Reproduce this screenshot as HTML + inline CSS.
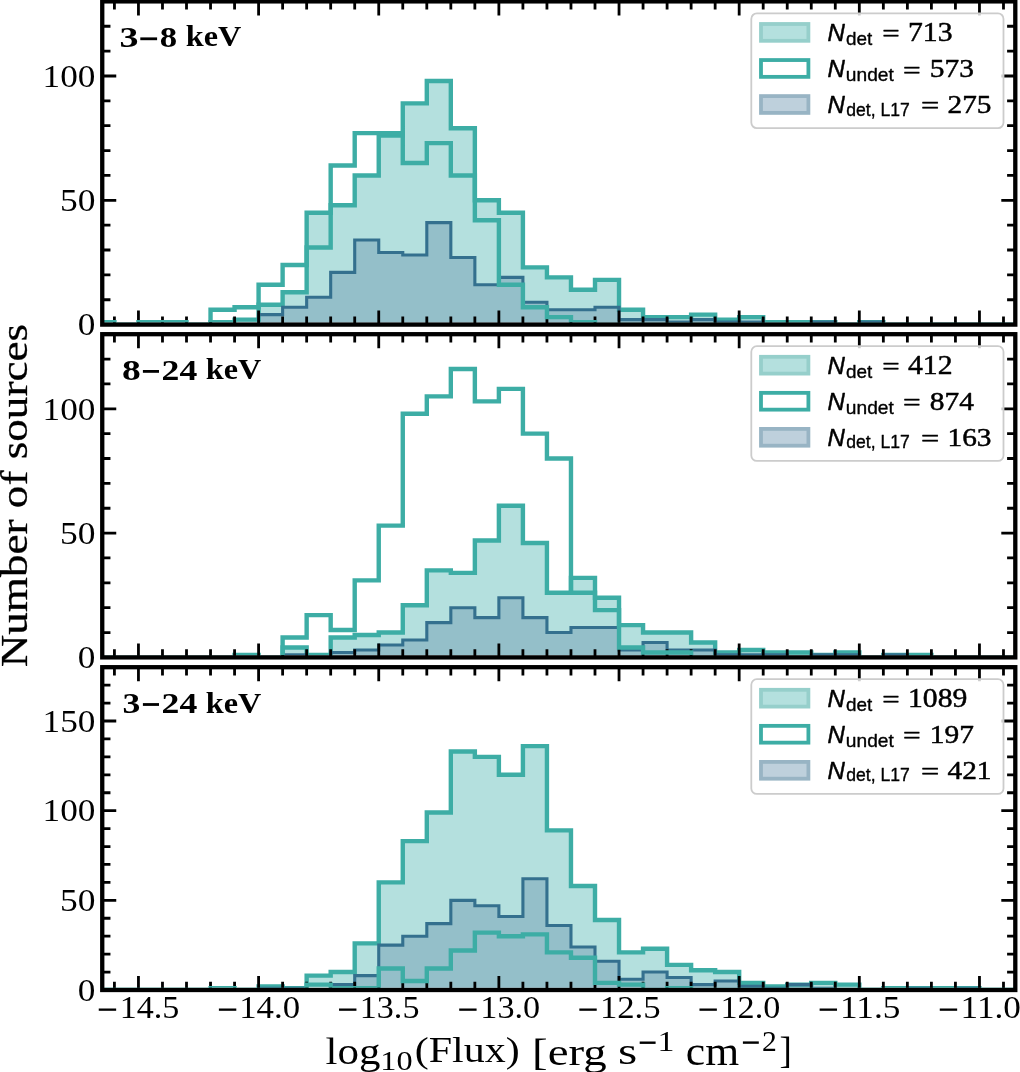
<!DOCTYPE html>
<html><head><meta charset="utf-8"><style>html,body{margin:0;padding:0;background:#fff;overflow:hidden}svg{display:block}</style></head>
<body><div style="will-change:transform">
<svg width="1020" height="1072" viewBox="0 0 1020 1072">
<rect width="1020" height="1072" fill="#fff"/>
<clipPath id="clip0"><rect x="102.25" y="1.4" width="913.05" height="321.05"/></clipPath>
<g clip-path="url(#clip0)">
<path d="M66.36,324.60 L66.36,324.60 L90.39,324.60 L90.39,324.60 L114.42,324.60 L114.42,324.60 L138.45,324.60 L138.45,324.60 L162.48,324.60 L162.48,324.60 L186.51,324.60 L186.51,324.60 L210.54,324.60 L210.54,322.11 L234.57,322.11 L234.57,319.63 L258.59,319.63 L258.59,304.71 L282.62,304.71 L282.62,292.28 L306.65,292.28 L306.65,212.72 L330.68,212.72 L330.68,205.26 L354.71,205.26 L354.71,175.43 L378.74,175.43 L378.74,135.65 L402.77,135.65 L402.77,103.33 L426.80,103.33 L426.80,80.96 L450.83,80.96 L450.83,128.19 L474.86,128.19 L474.86,200.29 L498.88,200.29 L498.88,212.72 L522.91,212.72 L522.91,267.42 L546.94,267.42 L546.94,277.36 L570.97,277.36 L570.97,289.79 L595.00,289.79 L595.00,279.85 L619.03,279.85 L619.03,309.68 L643.06,309.68 L643.06,317.14 L667.09,317.14 L667.09,317.14 L691.12,317.14 L691.12,314.66 L715.15,314.66 L715.15,319.63 L739.17,319.63 L739.17,317.14 L763.20,317.14 L763.20,322.11 L787.23,322.11 L787.23,322.11 L811.26,322.11 L811.26,322.11 L835.29,322.11 L835.29,324.60 L859.32,324.60 L859.32,322.11 L883.35,322.11 L883.35,324.60 L907.38,324.60 L907.38,324.60 L931.41,324.60 L931.41,324.60 L955.44,324.60 L955.44,324.60 L979.46,324.60 L979.46,324.60 L1003.49,324.60 L1003.49,324.60 L1027.52,324.60 L1027.52,324.60 Z" fill="#b4e0de" stroke="none"/>
<path d="M66.36,324.60 L66.36,324.60 L90.39,324.60 L90.39,324.60 L114.42,324.60 L114.42,324.60 L138.45,324.60 L138.45,324.60 L162.48,324.60 L162.48,324.60 L186.51,324.60 L186.51,324.60 L210.54,324.60 L210.54,324.60 L234.57,324.60 L234.57,324.60 L258.59,324.60 L258.59,314.66 L282.62,314.66 L282.62,307.20 L306.65,307.20 L306.65,297.25 L330.68,297.25 L330.68,272.39 L354.71,272.39 L354.71,240.07 L378.74,240.07 L378.74,252.50 L402.77,252.50 L402.77,254.99 L426.80,254.99 L426.80,222.67 L450.83,222.67 L450.83,257.47 L474.86,257.47 L474.86,284.82 L498.88,284.82 L498.88,277.36 L522.91,277.36 L522.91,302.22 L546.94,302.22 L546.94,309.68 L570.97,309.68 L570.97,309.68 L595.00,309.68 L595.00,307.20 L619.03,307.20 L619.03,319.63 L643.06,319.63 L643.06,319.63 L667.09,319.63 L667.09,322.11 L691.12,322.11 L691.12,319.63 L715.15,319.63 L715.15,322.11 L739.17,322.11 L739.17,322.11 L763.20,322.11 L763.20,324.60 L787.23,324.60 L787.23,324.60 L811.26,324.60 L811.26,322.11 L835.29,322.11 L835.29,324.60 L859.32,324.60 L859.32,322.11 L883.35,322.11 L883.35,324.60 L907.38,324.60 L907.38,324.60 L931.41,324.60 L931.41,324.60 L955.44,324.60 L955.44,324.60 L979.46,324.60 L979.46,324.60 L1003.49,324.60 L1003.49,324.60 L1027.52,324.60 L1027.52,324.60 Z" fill="rgb(107, 148, 176)" fill-opacity="0.44" stroke="none"/>
<path d="M66.36,324.60 L66.36,324.60 L90.39,324.60 L90.39,324.60 L114.42,324.60 L114.42,324.60 L138.45,324.60 L138.45,324.60 L162.48,324.60 L162.48,324.60 L186.51,324.60 L186.51,324.60 L210.54,324.60 L210.54,322.11 L234.57,322.11 L234.57,319.63 L258.59,319.63 L258.59,304.71 L282.62,304.71 L282.62,292.28 L306.65,292.28 L306.65,212.72 L330.68,212.72 L330.68,205.26 L354.71,205.26 L354.71,175.43 L378.74,175.43 L378.74,135.65 L402.77,135.65 L402.77,103.33 L426.80,103.33 L426.80,80.96 L450.83,80.96 L450.83,128.19 L474.86,128.19 L474.86,200.29 L498.88,200.29 L498.88,212.72 L522.91,212.72 L522.91,267.42 L546.94,267.42 L546.94,277.36 L570.97,277.36 L570.97,289.79 L595.00,289.79 L595.00,279.85 L619.03,279.85 L619.03,309.68 L643.06,309.68 L643.06,317.14 L667.09,317.14 L667.09,317.14 L691.12,317.14 L691.12,314.66 L715.15,314.66 L715.15,319.63 L739.17,319.63 L739.17,317.14 L763.20,317.14 L763.20,322.11 L787.23,322.11 L787.23,322.11 L811.26,322.11 L811.26,322.11 L835.29,322.11 L835.29,324.60 L859.32,324.60 L859.32,322.11 L883.35,322.11 L883.35,324.60 L907.38,324.60 L907.38,324.60 L931.41,324.60 L931.41,324.60 L955.44,324.60 L955.44,324.60 L979.46,324.60 L979.46,324.60 L1003.49,324.60 L1003.49,324.60 L1027.52,324.60 L1027.52,324.60" fill="none" stroke="#3dada5" stroke-width="4.4" stroke-linejoin="miter"/>
<path d="M66.36,324.60 L66.36,324.60 L90.39,324.60 L90.39,324.60 L114.42,324.60 L114.42,324.60 L138.45,324.60 L138.45,324.60 L162.48,324.60 L162.48,324.60 L186.51,324.60 L186.51,324.60 L210.54,324.60 L210.54,324.60 L234.57,324.60 L234.57,324.60 L258.59,324.60 L258.59,314.66 L282.62,314.66 L282.62,307.20 L306.65,307.20 L306.65,297.25 L330.68,297.25 L330.68,272.39 L354.71,272.39 L354.71,240.07 L378.74,240.07 L378.74,252.50 L402.77,252.50 L402.77,254.99 L426.80,254.99 L426.80,222.67 L450.83,222.67 L450.83,257.47 L474.86,257.47 L474.86,284.82 L498.88,284.82 L498.88,277.36 L522.91,277.36 L522.91,302.22 L546.94,302.22 L546.94,309.68 L570.97,309.68 L570.97,309.68 L595.00,309.68 L595.00,307.20 L619.03,307.20 L619.03,319.63 L643.06,319.63 L643.06,319.63 L667.09,319.63 L667.09,322.11 L691.12,322.11 L691.12,319.63 L715.15,319.63 L715.15,322.11 L739.17,322.11 L739.17,322.11 L763.20,322.11 L763.20,324.60 L787.23,324.60 L787.23,324.60 L811.26,324.60 L811.26,322.11 L835.29,322.11 L835.29,324.60 L859.32,324.60 L859.32,322.11 L883.35,322.11 L883.35,324.60 L907.38,324.60 L907.38,324.60 L931.41,324.60 L931.41,324.60 L955.44,324.60 L955.44,324.60 L979.46,324.60 L979.46,324.60 L1003.49,324.60 L1003.49,324.60 L1027.52,324.60 L1027.52,324.60" fill="none" stroke="#34708e" stroke-width="3.1" stroke-linejoin="miter"/>
</g>
<clipPath id="clip1"><rect x="102.25" y="334.2" width="913.05" height="321.05"/></clipPath>
<g clip-path="url(#clip1)">
<path d="M66.36,657.40 L66.36,657.40 L90.39,657.40 L90.39,657.40 L114.42,657.40 L114.42,657.40 L138.45,657.40 L138.45,657.40 L162.48,657.40 L162.48,657.40 L186.51,657.40 L186.51,657.40 L210.54,657.40 L210.54,657.40 L234.57,657.40 L234.57,654.91 L258.59,654.91 L258.59,657.40 L282.62,657.40 L282.62,647.46 L306.65,647.46 L306.65,654.91 L330.68,654.91 L330.68,637.51 L354.71,637.51 L354.71,635.02 L378.74,635.02 L378.74,632.54 L402.77,632.54 L402.77,605.19 L426.80,605.19 L426.80,570.38 L450.83,570.38 L450.83,572.87 L474.86,572.87 L474.86,540.55 L498.88,540.55 L498.88,505.74 L522.91,505.74 L522.91,543.04 L546.94,543.04 L546.94,592.76 L570.97,592.76 L570.97,577.84 L595.00,577.84 L595.00,597.73 L619.03,597.73 L619.03,625.08 L643.06,625.08 L643.06,632.54 L667.09,632.54 L667.09,632.54 L691.12,632.54 L691.12,642.48 L715.15,642.48 L715.15,652.43 L739.17,652.43 L739.17,649.94 L763.20,649.94 L763.20,652.43 L787.23,652.43 L787.23,652.43 L811.26,652.43 L811.26,654.91 L835.29,654.91 L835.29,652.43 L859.32,652.43 L859.32,657.40 L883.35,657.40 L883.35,654.91 L907.38,654.91 L907.38,654.91 L931.41,654.91 L931.41,657.40 L955.44,657.40 L955.44,657.40 L979.46,657.40 L979.46,657.40 L1003.49,657.40 L1003.49,657.40 L1027.52,657.40 L1027.52,657.40 Z" fill="#b4e0de" stroke="none"/>
<path d="M66.36,657.40 L66.36,657.40 L90.39,657.40 L90.39,657.40 L114.42,657.40 L114.42,657.40 L138.45,657.40 L138.45,657.40 L162.48,657.40 L162.48,657.40 L186.51,657.40 L186.51,657.40 L210.54,657.40 L210.54,657.40 L234.57,657.40 L234.57,657.40 L258.59,657.40 L258.59,657.40 L282.62,657.40 L282.62,654.91 L306.65,654.91 L306.65,657.40 L330.68,657.40 L330.68,652.43 L354.71,652.43 L354.71,649.94 L378.74,649.94 L378.74,644.97 L402.77,644.97 L402.77,640.00 L426.80,640.00 L426.80,622.59 L450.83,622.59 L450.83,607.68 L474.86,607.68 L474.86,617.62 L498.88,617.62 L498.88,597.73 L522.91,597.73 L522.91,617.62 L546.94,617.62 L546.94,632.54 L570.97,632.54 L570.97,627.57 L595.00,627.57 L595.00,627.57 L619.03,627.57 L619.03,649.94 L643.06,649.94 L643.06,642.48 L667.09,642.48 L667.09,649.94 L691.12,649.94 L691.12,649.94 L715.15,649.94 L715.15,654.91 L739.17,654.91 L739.17,654.91 L763.20,654.91 L763.20,654.91 L787.23,654.91 L787.23,657.40 L811.26,657.40 L811.26,654.91 L835.29,654.91 L835.29,654.91 L859.32,654.91 L859.32,657.40 L883.35,657.40 L883.35,654.91 L907.38,654.91 L907.38,657.40 L931.41,657.40 L931.41,657.40 L955.44,657.40 L955.44,657.40 L979.46,657.40 L979.46,657.40 L1003.49,657.40 L1003.49,657.40 L1027.52,657.40 L1027.52,657.40 Z" fill="rgb(107, 148, 176)" fill-opacity="0.44" stroke="none"/>
<path d="M66.36,657.40 L66.36,657.40 L90.39,657.40 L90.39,657.40 L114.42,657.40 L114.42,657.40 L138.45,657.40 L138.45,657.40 L162.48,657.40 L162.48,657.40 L186.51,657.40 L186.51,657.40 L210.54,657.40 L210.54,657.40 L234.57,657.40 L234.57,654.91 L258.59,654.91 L258.59,657.40 L282.62,657.40 L282.62,647.46 L306.65,647.46 L306.65,654.91 L330.68,654.91 L330.68,637.51 L354.71,637.51 L354.71,635.02 L378.74,635.02 L378.74,632.54 L402.77,632.54 L402.77,605.19 L426.80,605.19 L426.80,570.38 L450.83,570.38 L450.83,572.87 L474.86,572.87 L474.86,540.55 L498.88,540.55 L498.88,505.74 L522.91,505.74 L522.91,543.04 L546.94,543.04 L546.94,592.76 L570.97,592.76 L570.97,577.84 L595.00,577.84 L595.00,597.73 L619.03,597.73 L619.03,625.08 L643.06,625.08 L643.06,632.54 L667.09,632.54 L667.09,632.54 L691.12,632.54 L691.12,642.48 L715.15,642.48 L715.15,652.43 L739.17,652.43 L739.17,649.94 L763.20,649.94 L763.20,652.43 L787.23,652.43 L787.23,652.43 L811.26,652.43 L811.26,654.91 L835.29,654.91 L835.29,652.43 L859.32,652.43 L859.32,657.40 L883.35,657.40 L883.35,654.91 L907.38,654.91 L907.38,654.91 L931.41,654.91 L931.41,657.40 L955.44,657.40 L955.44,657.40 L979.46,657.40 L979.46,657.40 L1003.49,657.40 L1003.49,657.40 L1027.52,657.40 L1027.52,657.40" fill="none" stroke="#3dada5" stroke-width="4.4" stroke-linejoin="miter"/>
<path d="M66.36,657.40 L66.36,657.40 L90.39,657.40 L90.39,657.40 L114.42,657.40 L114.42,657.40 L138.45,657.40 L138.45,657.40 L162.48,657.40 L162.48,657.40 L186.51,657.40 L186.51,657.40 L210.54,657.40 L210.54,657.40 L234.57,657.40 L234.57,657.40 L258.59,657.40 L258.59,657.40 L282.62,657.40 L282.62,654.91 L306.65,654.91 L306.65,657.40 L330.68,657.40 L330.68,652.43 L354.71,652.43 L354.71,649.94 L378.74,649.94 L378.74,644.97 L402.77,644.97 L402.77,640.00 L426.80,640.00 L426.80,622.59 L450.83,622.59 L450.83,607.68 L474.86,607.68 L474.86,617.62 L498.88,617.62 L498.88,597.73 L522.91,597.73 L522.91,617.62 L546.94,617.62 L546.94,632.54 L570.97,632.54 L570.97,627.57 L595.00,627.57 L595.00,627.57 L619.03,627.57 L619.03,649.94 L643.06,649.94 L643.06,642.48 L667.09,642.48 L667.09,649.94 L691.12,649.94 L691.12,649.94 L715.15,649.94 L715.15,654.91 L739.17,654.91 L739.17,654.91 L763.20,654.91 L763.20,654.91 L787.23,654.91 L787.23,657.40 L811.26,657.40 L811.26,654.91 L835.29,654.91 L835.29,654.91 L859.32,654.91 L859.32,657.40 L883.35,657.40 L883.35,654.91 L907.38,654.91 L907.38,657.40 L931.41,657.40 L931.41,657.40 L955.44,657.40 L955.44,657.40 L979.46,657.40 L979.46,657.40 L1003.49,657.40 L1003.49,657.40 L1027.52,657.40 L1027.52,657.40" fill="none" stroke="#34708e" stroke-width="3.1" stroke-linejoin="miter"/>
</g>
<clipPath id="clip2"><rect x="102.25" y="667.2" width="913.05" height="320.65"/></clipPath>
<g clip-path="url(#clip2)">
<path d="M66.36,990.00 L66.36,990.00 L90.39,990.00 L90.39,990.00 L114.42,990.00 L114.42,990.00 L138.45,990.00 L138.45,990.00 L162.48,990.00 L162.48,990.00 L186.51,990.00 L186.51,990.00 L210.54,990.00 L210.54,990.00 L234.57,990.00 L234.57,990.00 L258.59,990.00 L258.59,986.41 L282.62,986.41 L282.62,988.21 L306.65,988.21 L306.65,975.65 L330.68,975.65 L330.68,972.07 L354.71,972.07 L354.71,943.37 L378.74,943.37 L378.74,882.40 L402.77,882.40 L402.77,841.15 L426.80,841.15 L426.80,812.46 L450.83,812.46 L450.83,751.49 L474.86,751.49 L474.86,756.87 L498.88,756.87 L498.88,774.80 L522.91,774.80 L522.91,746.11 L546.94,746.11 L546.94,830.39 L570.97,830.39 L570.97,885.99 L595.00,885.99 L595.00,920.06 L619.03,920.06 L619.03,952.34 L643.06,952.34 L643.06,948.75 L667.09,948.75 L667.09,964.89 L691.12,964.89 L691.12,970.27 L715.15,970.27 L715.15,972.07 L739.17,972.07 L739.17,982.83 L763.20,982.83 L763.20,986.41 L787.23,986.41 L787.23,984.62 L811.26,984.62 L811.26,982.83 L835.29,982.83 L835.29,984.62 L859.32,984.62 L859.32,990.00 L883.35,990.00 L883.35,988.21 L907.38,988.21 L907.38,988.21 L931.41,988.21 L931.41,988.21 L955.44,988.21 L955.44,988.21 L979.46,988.21 L979.46,990.00 L1003.49,990.00 L1003.49,990.00 L1027.52,990.00 L1027.52,990.00 Z" fill="#b4e0de" stroke="none"/>
<path d="M66.36,990.00 L66.36,990.00 L90.39,990.00 L90.39,990.00 L114.42,990.00 L114.42,990.00 L138.45,990.00 L138.45,990.00 L162.48,990.00 L162.48,990.00 L186.51,990.00 L186.51,990.00 L210.54,990.00 L210.54,990.00 L234.57,990.00 L234.57,990.00 L258.59,990.00 L258.59,988.21 L282.62,988.21 L282.62,988.21 L306.65,988.21 L306.65,990.00 L330.68,990.00 L330.68,984.62 L354.71,984.62 L354.71,975.65 L378.74,975.65 L378.74,945.17 L402.77,945.17 L402.77,936.20 L426.80,936.20 L426.80,923.65 L450.83,923.65 L450.83,900.33 L474.86,900.33 L474.86,905.71 L498.88,905.71 L498.88,916.47 L522.91,916.47 L522.91,878.81 L546.94,878.81 L546.94,925.44 L570.97,925.44 L570.97,946.96 L595.00,946.96 L595.00,961.31 L619.03,961.31 L619.03,979.24 L643.06,979.24 L643.06,972.07 L667.09,972.07 L667.09,977.45 L691.12,977.45 L691.12,984.62 L715.15,984.62 L715.15,981.03 L739.17,981.03 L739.17,986.41 L763.20,986.41 L763.20,988.21 L787.23,988.21 L787.23,984.62 L811.26,984.62 L811.26,988.21 L835.29,988.21 L835.29,990.00 L859.32,990.00 L859.32,990.00 L883.35,990.00 L883.35,990.00 L907.38,990.00 L907.38,988.21 L931.41,988.21 L931.41,990.00 L955.44,990.00 L955.44,988.21 L979.46,988.21 L979.46,990.00 L1003.49,990.00 L1003.49,990.00 L1027.52,990.00 L1027.52,990.00 Z" fill="rgb(107, 148, 176)" fill-opacity="0.44" stroke="none"/>
<path d="M66.36,990.00 L66.36,990.00 L90.39,990.00 L90.39,990.00 L114.42,990.00 L114.42,990.00 L138.45,990.00 L138.45,990.00 L162.48,990.00 L162.48,990.00 L186.51,990.00 L186.51,990.00 L210.54,990.00 L210.54,990.00 L234.57,990.00 L234.57,990.00 L258.59,990.00 L258.59,986.41 L282.62,986.41 L282.62,988.21 L306.65,988.21 L306.65,975.65 L330.68,975.65 L330.68,972.07 L354.71,972.07 L354.71,943.37 L378.74,943.37 L378.74,882.40 L402.77,882.40 L402.77,841.15 L426.80,841.15 L426.80,812.46 L450.83,812.46 L450.83,751.49 L474.86,751.49 L474.86,756.87 L498.88,756.87 L498.88,774.80 L522.91,774.80 L522.91,746.11 L546.94,746.11 L546.94,830.39 L570.97,830.39 L570.97,885.99 L595.00,885.99 L595.00,920.06 L619.03,920.06 L619.03,952.34 L643.06,952.34 L643.06,948.75 L667.09,948.75 L667.09,964.89 L691.12,964.89 L691.12,970.27 L715.15,970.27 L715.15,972.07 L739.17,972.07 L739.17,982.83 L763.20,982.83 L763.20,986.41 L787.23,986.41 L787.23,984.62 L811.26,984.62 L811.26,982.83 L835.29,982.83 L835.29,984.62 L859.32,984.62 L859.32,990.00 L883.35,990.00 L883.35,988.21 L907.38,988.21 L907.38,988.21 L931.41,988.21 L931.41,988.21 L955.44,988.21 L955.44,988.21 L979.46,988.21 L979.46,990.00 L1003.49,990.00 L1003.49,990.00 L1027.52,990.00 L1027.52,990.00" fill="none" stroke="#3dada5" stroke-width="4.4" stroke-linejoin="miter"/>
<path d="M66.36,990.00 L66.36,990.00 L90.39,990.00 L90.39,990.00 L114.42,990.00 L114.42,990.00 L138.45,990.00 L138.45,990.00 L162.48,990.00 L162.48,990.00 L186.51,990.00 L186.51,990.00 L210.54,990.00 L210.54,990.00 L234.57,990.00 L234.57,990.00 L258.59,990.00 L258.59,988.21 L282.62,988.21 L282.62,988.21 L306.65,988.21 L306.65,990.00 L330.68,990.00 L330.68,984.62 L354.71,984.62 L354.71,975.65 L378.74,975.65 L378.74,945.17 L402.77,945.17 L402.77,936.20 L426.80,936.20 L426.80,923.65 L450.83,923.65 L450.83,900.33 L474.86,900.33 L474.86,905.71 L498.88,905.71 L498.88,916.47 L522.91,916.47 L522.91,878.81 L546.94,878.81 L546.94,925.44 L570.97,925.44 L570.97,946.96 L595.00,946.96 L595.00,961.31 L619.03,961.31 L619.03,979.24 L643.06,979.24 L643.06,972.07 L667.09,972.07 L667.09,977.45 L691.12,977.45 L691.12,984.62 L715.15,984.62 L715.15,981.03 L739.17,981.03 L739.17,986.41 L763.20,986.41 L763.20,988.21 L787.23,988.21 L787.23,984.62 L811.26,984.62 L811.26,988.21 L835.29,988.21 L835.29,990.00 L859.32,990.00 L859.32,990.00 L883.35,990.00 L883.35,990.00 L907.38,990.00 L907.38,988.21 L931.41,988.21 L931.41,990.00 L955.44,990.00 L955.44,988.21 L979.46,988.21 L979.46,990.00 L1003.49,990.00 L1003.49,990.00 L1027.52,990.00 L1027.52,990.00" fill="none" stroke="#34708e" stroke-width="3.1" stroke-linejoin="miter"/>
</g>
<path d="M138.45,324.60v-14.0M138.45,1.40v14.0M258.59,324.60v-14.0M258.59,1.40v14.0M378.74,324.60v-14.0M378.74,1.40v14.0M498.88,324.60v-14.0M498.88,1.40v14.0M619.03,324.60v-14.0M619.03,1.40v14.0M739.17,324.60v-14.0M739.17,1.40v14.0M859.32,324.60v-14.0M859.32,1.40v14.0M979.46,324.60v-14.0M979.46,1.40v14.0M114.42,324.60v-8.2M114.42,1.40v8.2M162.48,324.60v-8.2M162.48,1.40v8.2M186.51,324.60v-8.2M186.51,1.40v8.2M210.54,324.60v-8.2M210.54,1.40v8.2M234.57,324.60v-8.2M234.57,1.40v8.2M282.62,324.60v-8.2M282.62,1.40v8.2M306.65,324.60v-8.2M306.65,1.40v8.2M330.68,324.60v-8.2M330.68,1.40v8.2M354.71,324.60v-8.2M354.71,1.40v8.2M402.77,324.60v-8.2M402.77,1.40v8.2M426.80,324.60v-8.2M426.80,1.40v8.2M450.83,324.60v-8.2M450.83,1.40v8.2M474.86,324.60v-8.2M474.86,1.40v8.2M522.91,324.60v-8.2M522.91,1.40v8.2M546.94,324.60v-8.2M546.94,1.40v8.2M570.97,324.60v-8.2M570.97,1.40v8.2M595.00,324.60v-8.2M595.00,1.40v8.2M643.06,324.60v-8.2M643.06,1.40v8.2M667.09,324.60v-8.2M667.09,1.40v8.2M691.12,324.60v-8.2M691.12,1.40v8.2M715.15,324.60v-8.2M715.15,1.40v8.2M763.20,324.60v-8.2M763.20,1.40v8.2M787.23,324.60v-8.2M787.23,1.40v8.2M811.26,324.60v-8.2M811.26,1.40v8.2M835.29,324.60v-8.2M835.29,1.40v8.2M883.35,324.60v-8.2M883.35,1.40v8.2M907.38,324.60v-8.2M907.38,1.40v8.2M931.41,324.60v-8.2M931.41,1.40v8.2M955.44,324.60v-8.2M955.44,1.40v8.2M1003.49,324.60v-8.2M1003.49,1.40v8.2M102.25,324.60h14.0M1015.30,324.60h-14.0M102.25,299.74h8.2M1015.30,299.74h-8.2M102.25,274.88h8.2M1015.30,274.88h-8.2M102.25,250.02h8.2M1015.30,250.02h-8.2M102.25,225.15h8.2M1015.30,225.15h-8.2M102.25,200.29h14.0M1015.30,200.29h-14.0M102.25,175.43h8.2M1015.30,175.43h-8.2M102.25,150.57h8.2M1015.30,150.57h-8.2M102.25,125.71h8.2M1015.30,125.71h-8.2M102.25,100.85h8.2M1015.30,100.85h-8.2M102.25,75.98h14.0M1015.30,75.98h-14.0M102.25,51.12h8.2M1015.30,51.12h-8.2M102.25,26.26h8.2M1015.30,26.26h-8.2M102.25,1.40h8.2M1015.30,1.40h-8.2" stroke="#000" stroke-width="2.8" fill="none"/>
<path d="M138.45,657.40v-14.0M138.45,334.20v14.0M258.59,657.40v-14.0M258.59,334.20v14.0M378.74,657.40v-14.0M378.74,334.20v14.0M498.88,657.40v-14.0M498.88,334.20v14.0M619.03,657.40v-14.0M619.03,334.20v14.0M739.17,657.40v-14.0M739.17,334.20v14.0M859.32,657.40v-14.0M859.32,334.20v14.0M979.46,657.40v-14.0M979.46,334.20v14.0M114.42,657.40v-8.2M114.42,334.20v8.2M162.48,657.40v-8.2M162.48,334.20v8.2M186.51,657.40v-8.2M186.51,334.20v8.2M210.54,657.40v-8.2M210.54,334.20v8.2M234.57,657.40v-8.2M234.57,334.20v8.2M282.62,657.40v-8.2M282.62,334.20v8.2M306.65,657.40v-8.2M306.65,334.20v8.2M330.68,657.40v-8.2M330.68,334.20v8.2M354.71,657.40v-8.2M354.71,334.20v8.2M402.77,657.40v-8.2M402.77,334.20v8.2M426.80,657.40v-8.2M426.80,334.20v8.2M450.83,657.40v-8.2M450.83,334.20v8.2M474.86,657.40v-8.2M474.86,334.20v8.2M522.91,657.40v-8.2M522.91,334.20v8.2M546.94,657.40v-8.2M546.94,334.20v8.2M570.97,657.40v-8.2M570.97,334.20v8.2M595.00,657.40v-8.2M595.00,334.20v8.2M643.06,657.40v-8.2M643.06,334.20v8.2M667.09,657.40v-8.2M667.09,334.20v8.2M691.12,657.40v-8.2M691.12,334.20v8.2M715.15,657.40v-8.2M715.15,334.20v8.2M763.20,657.40v-8.2M763.20,334.20v8.2M787.23,657.40v-8.2M787.23,334.20v8.2M811.26,657.40v-8.2M811.26,334.20v8.2M835.29,657.40v-8.2M835.29,334.20v8.2M883.35,657.40v-8.2M883.35,334.20v8.2M907.38,657.40v-8.2M907.38,334.20v8.2M931.41,657.40v-8.2M931.41,334.20v8.2M955.44,657.40v-8.2M955.44,334.20v8.2M1003.49,657.40v-8.2M1003.49,334.20v8.2M102.25,657.40h14.0M1015.30,657.40h-14.0M102.25,632.54h8.2M1015.30,632.54h-8.2M102.25,607.68h8.2M1015.30,607.68h-8.2M102.25,582.82h8.2M1015.30,582.82h-8.2M102.25,557.95h8.2M1015.30,557.95h-8.2M102.25,533.09h14.0M1015.30,533.09h-14.0M102.25,508.23h8.2M1015.30,508.23h-8.2M102.25,483.37h8.2M1015.30,483.37h-8.2M102.25,458.51h8.2M1015.30,458.51h-8.2M102.25,433.65h8.2M1015.30,433.65h-8.2M102.25,408.78h14.0M1015.30,408.78h-14.0M102.25,383.92h8.2M1015.30,383.92h-8.2M102.25,359.06h8.2M1015.30,359.06h-8.2M102.25,334.20h8.2M1015.30,334.20h-8.2" stroke="#000" stroke-width="2.8" fill="none"/>
<path d="M138.45,990.00v-14.0M138.45,667.20v14.0M258.59,990.00v-14.0M258.59,667.20v14.0M378.74,990.00v-14.0M378.74,667.20v14.0M498.88,990.00v-14.0M498.88,667.20v14.0M619.03,990.00v-14.0M619.03,667.20v14.0M739.17,990.00v-14.0M739.17,667.20v14.0M859.32,990.00v-14.0M859.32,667.20v14.0M979.46,990.00v-14.0M979.46,667.20v14.0M114.42,990.00v-8.2M114.42,667.20v8.2M162.48,990.00v-8.2M162.48,667.20v8.2M186.51,990.00v-8.2M186.51,667.20v8.2M210.54,990.00v-8.2M210.54,667.20v8.2M234.57,990.00v-8.2M234.57,667.20v8.2M282.62,990.00v-8.2M282.62,667.20v8.2M306.65,990.00v-8.2M306.65,667.20v8.2M330.68,990.00v-8.2M330.68,667.20v8.2M354.71,990.00v-8.2M354.71,667.20v8.2M402.77,990.00v-8.2M402.77,667.20v8.2M426.80,990.00v-8.2M426.80,667.20v8.2M450.83,990.00v-8.2M450.83,667.20v8.2M474.86,990.00v-8.2M474.86,667.20v8.2M522.91,990.00v-8.2M522.91,667.20v8.2M546.94,990.00v-8.2M546.94,667.20v8.2M570.97,990.00v-8.2M570.97,667.20v8.2M595.00,990.00v-8.2M595.00,667.20v8.2M643.06,990.00v-8.2M643.06,667.20v8.2M667.09,990.00v-8.2M667.09,667.20v8.2M691.12,990.00v-8.2M691.12,667.20v8.2M715.15,990.00v-8.2M715.15,667.20v8.2M763.20,990.00v-8.2M763.20,667.20v8.2M787.23,990.00v-8.2M787.23,667.20v8.2M811.26,990.00v-8.2M811.26,667.20v8.2M835.29,990.00v-8.2M835.29,667.20v8.2M883.35,990.00v-8.2M883.35,667.20v8.2M907.38,990.00v-8.2M907.38,667.20v8.2M931.41,990.00v-8.2M931.41,667.20v8.2M955.44,990.00v-8.2M955.44,667.20v8.2M1003.49,990.00v-8.2M1003.49,667.20v8.2M102.25,990.00h14.0M1015.30,990.00h-14.0M102.25,972.07h8.2M1015.30,972.07h-8.2M102.25,954.13h8.2M1015.30,954.13h-8.2M102.25,936.20h8.2M1015.30,936.20h-8.2M102.25,918.27h8.2M1015.30,918.27h-8.2M102.25,900.33h14.0M1015.30,900.33h-14.0M102.25,882.40h8.2M1015.30,882.40h-8.2M102.25,864.47h8.2M1015.30,864.47h-8.2M102.25,846.53h8.2M1015.30,846.53h-8.2M102.25,828.60h8.2M1015.30,828.60h-8.2M102.25,810.67h14.0M1015.30,810.67h-14.0M102.25,792.73h8.2M1015.30,792.73h-8.2M102.25,774.80h8.2M1015.30,774.80h-8.2M102.25,756.87h8.2M1015.30,756.87h-8.2M102.25,738.93h8.2M1015.30,738.93h-8.2M102.25,721.00h14.0M1015.30,721.00h-14.0M102.25,703.07h8.2M1015.30,703.07h-8.2M102.25,685.13h8.2M1015.30,685.13h-8.2M102.25,667.20h8.2M1015.30,667.20h-8.2" stroke="#000" stroke-width="2.8" fill="none"/>
<g clip-path="url(#clip0)"><path d="M66.36,324.60 L66.36,324.60 L90.39,324.60 L90.39,322.11 L114.42,322.11 L114.42,324.60 L138.45,324.60 L138.45,322.11 L162.48,322.11 L162.48,322.11 L186.51,322.11 L186.51,324.60 L210.54,324.60 L210.54,309.68 L234.57,309.68 L234.57,307.20 L258.59,307.20 L258.59,284.82 L282.62,284.82 L282.62,264.93 L306.65,264.93 L306.65,247.53 L330.68,247.53 L330.68,165.49 L354.71,165.49 L354.71,133.17 L378.74,133.17 L378.74,133.17 L402.77,133.17 L402.77,163.00 L426.80,163.00 L426.80,143.11 L450.83,143.11 L450.83,175.43 L474.86,175.43 L474.86,220.18 L498.88,220.18 L498.88,284.82 L522.91,284.82 L522.91,307.20 L546.94,307.20 L546.94,317.14 L570.97,317.14 L570.97,322.11 L595.00,322.11 L595.00,324.60 L619.03,324.60 L619.03,324.60 L643.06,324.60 L643.06,324.60 L667.09,324.60 L667.09,324.60 L691.12,324.60 L691.12,324.60 L715.15,324.60 L715.15,324.60 L739.17,324.60 L739.17,324.60 L763.20,324.60 L763.20,324.60 L787.23,324.60 L787.23,324.60 L811.26,324.60 L811.26,324.60 L835.29,324.60 L835.29,324.60 L859.32,324.60 L859.32,324.60 L883.35,324.60 L883.35,324.60 L907.38,324.60 L907.38,324.60 L931.41,324.60 L931.41,324.60 L955.44,324.60 L955.44,324.60 L979.46,324.60 L979.46,324.60 L1003.49,324.60 L1003.49,324.60 L1027.52,324.60 L1027.52,324.60" fill="none" stroke="#3dada5" stroke-width="4.4" stroke-linejoin="miter"/></g>
<g clip-path="url(#clip1)"><path d="M66.36,657.40 L66.36,657.40 L90.39,657.40 L90.39,657.40 L114.42,657.40 L114.42,657.40 L138.45,657.40 L138.45,657.40 L162.48,657.40 L162.48,657.40 L186.51,657.40 L186.51,657.40 L210.54,657.40 L210.54,657.40 L234.57,657.40 L234.57,657.40 L258.59,657.40 L258.59,657.40 L282.62,657.40 L282.62,637.51 L306.65,637.51 L306.65,615.14 L330.68,615.14 L330.68,630.05 L354.71,630.05 L354.71,580.33 L378.74,580.33 L378.74,525.63 L402.77,525.63 L402.77,413.76 L426.80,413.76 L426.80,396.35 L450.83,396.35 L450.83,369.01 L474.86,369.01 L474.86,401.33 L498.88,401.33 L498.88,388.90 L522.91,388.90 L522.91,433.65 L546.94,433.65 L546.94,458.51 L570.97,458.51 L570.97,592.76 L595.00,592.76 L595.00,610.16 L619.03,610.16 L619.03,647.46 L643.06,647.46 L643.06,652.43 L667.09,652.43 L667.09,652.43 L691.12,652.43 L691.12,657.40 L715.15,657.40 L715.15,657.40 L739.17,657.40 L739.17,657.40 L763.20,657.40 L763.20,657.40 L787.23,657.40 L787.23,657.40 L811.26,657.40 L811.26,657.40 L835.29,657.40 L835.29,657.40 L859.32,657.40 L859.32,657.40 L883.35,657.40 L883.35,657.40 L907.38,657.40 L907.38,657.40 L931.41,657.40 L931.41,657.40 L955.44,657.40 L955.44,657.40 L979.46,657.40 L979.46,657.40 L1003.49,657.40 L1003.49,657.40 L1027.52,657.40 L1027.52,657.40" fill="none" stroke="#3dada5" stroke-width="4.4" stroke-linejoin="miter"/></g>
<g clip-path="url(#clip2)"><path d="M66.36,990.00 L66.36,990.00 L90.39,990.00 L90.39,990.00 L114.42,990.00 L114.42,990.00 L138.45,990.00 L138.45,990.00 L162.48,990.00 L162.48,990.00 L186.51,990.00 L186.51,990.00 L210.54,990.00 L210.54,988.21 L234.57,988.21 L234.57,990.00 L258.59,990.00 L258.59,990.00 L282.62,990.00 L282.62,990.00 L306.65,990.00 L306.65,984.62 L330.68,984.62 L330.68,988.21 L354.71,988.21 L354.71,988.21 L378.74,988.21 L378.74,968.48 L402.77,968.48 L402.77,981.03 L426.80,981.03 L426.80,968.48 L450.83,968.48 L450.83,950.55 L474.86,950.55 L474.86,932.61 L498.88,932.61 L498.88,936.20 L522.91,936.20 L522.91,934.41 L546.94,934.41 L546.94,952.34 L570.97,952.34 L570.97,957.72 L595.00,957.72 L595.00,982.83 L619.03,982.83 L619.03,984.62 L643.06,984.62 L643.06,990.00 L667.09,990.00 L667.09,988.21 L691.12,988.21 L691.12,990.00 L715.15,990.00 L715.15,990.00 L739.17,990.00 L739.17,990.00 L763.20,990.00 L763.20,990.00 L787.23,990.00 L787.23,990.00 L811.26,990.00 L811.26,990.00 L835.29,990.00 L835.29,990.00 L859.32,990.00 L859.32,990.00 L883.35,990.00 L883.35,990.00 L907.38,990.00 L907.38,990.00 L931.41,990.00 L931.41,990.00 L955.44,990.00 L955.44,990.00 L979.46,990.00 L979.46,990.00 L1003.49,990.00 L1003.49,990.00 L1027.52,990.00 L1027.52,990.00" fill="none" stroke="#3dada5" stroke-width="4.4" stroke-linejoin="miter"/></g>
<rect x="102.25" y="1.40" width="913.05" height="323.20" fill="none" stroke="#000" stroke-width="4.3" stroke-linejoin="miter"/>
<rect x="102.25" y="334.20" width="913.05" height="323.20" fill="none" stroke="#000" stroke-width="4.3" stroke-linejoin="miter"/>
<rect x="102.25" y="667.20" width="913.05" height="322.80" fill="none" stroke="#000" stroke-width="4.3" stroke-linejoin="miter"/>
<rect x="751.3" y="13.40" width="252.20" height="114.70" rx="5.5" ry="5.5" fill="#fff" fill-opacity="0.8" stroke="#cccccc" stroke-width="1.8"/>
<rect x="761.0" y="24.00" width="47.4" height="16.8" fill="#b4e0de" stroke="#96cfcb" stroke-width="3.8"/>
<rect x="761.0" y="60.05" width="47.4" height="16.8" fill="#ffffff" stroke="#3dada5" stroke-width="3.8"/>
<rect x="761.0" y="96.10" width="47.4" height="16.8" fill="#bed0dc" stroke="#98b4c4" stroke-width="3.8"/>
<rect x="751.3" y="346.20" width="252.20" height="114.70" rx="5.5" ry="5.5" fill="#fff" fill-opacity="0.8" stroke="#cccccc" stroke-width="1.8"/>
<rect x="761.0" y="356.80" width="47.4" height="16.8" fill="#b4e0de" stroke="#96cfcb" stroke-width="3.8"/>
<rect x="761.0" y="392.85" width="47.4" height="16.8" fill="#ffffff" stroke="#3dada5" stroke-width="3.8"/>
<rect x="761.0" y="428.90" width="47.4" height="16.8" fill="#bed0dc" stroke="#98b4c4" stroke-width="3.8"/>
<rect x="751.3" y="679.20" width="252.20" height="114.70" rx="5.5" ry="5.5" fill="#fff" fill-opacity="0.8" stroke="#cccccc" stroke-width="1.8"/>
<rect x="761.0" y="689.80" width="47.4" height="16.8" fill="#b4e0de" stroke="#96cfcb" stroke-width="3.8"/>
<rect x="761.0" y="725.85" width="47.4" height="16.8" fill="#ffffff" stroke="#3dada5" stroke-width="3.8"/>
<rect x="761.0" y="761.90" width="47.4" height="16.8" fill="#bed0dc" stroke="#98b4c4" stroke-width="3.8"/>
<text transform="matrix(0.8824,0.0000,0.0000,0.8008,-98.6184,175.0344)" x="200" y="200" font-family="'Liberation Serif', serif" font-size="40" font-weight="normal" font-style="normal" fill="#000">0</text>
<text transform="matrix(0.8875,0.0000,0.0000,0.8008,-117.4775,50.7967)" x="200" y="200" font-family="'Liberation Serif', serif" font-size="40" font-weight="normal" font-style="normal" fill="#000">50</text>
<text transform="matrix(0.8824,0.0000,0.0000,0.8008,-133.9455,-73.4166)" x="200" y="200" font-family="'Liberation Serif', serif" font-size="40" font-weight="normal" font-style="normal" fill="#000">100</text>
<text transform="matrix(0.8824,0.0000,0.0000,0.8008,-98.6184,508.2604)" x="200" y="200" font-family="'Liberation Serif', serif" font-size="40" font-weight="normal" font-style="normal" fill="#000">0</text>
<text transform="matrix(0.8875,0.0000,0.0000,0.8008,-117.4775,384.0133)" x="200" y="200" font-family="'Liberation Serif', serif" font-size="40" font-weight="normal" font-style="normal" fill="#000">50</text>
<text transform="matrix(0.8824,0.0000,0.0000,0.8008,-133.9455,259.8004)" x="200" y="200" font-family="'Liberation Serif', serif" font-size="40" font-weight="normal" font-style="normal" fill="#000">100</text>
<text transform="matrix(0.8824,0.0000,0.0000,0.8008,-98.6184,840.6474)" x="200" y="200" font-family="'Liberation Serif', serif" font-size="40" font-weight="normal" font-style="normal" fill="#000">0</text>
<text transform="matrix(0.8875,0.0000,0.0000,0.8008,-117.4775,750.9961)" x="200" y="200" font-family="'Liberation Serif', serif" font-size="40" font-weight="normal" font-style="normal" fill="#000">50</text>
<text transform="matrix(0.8824,0.0000,0.0000,0.8008,-133.9455,661.3273)" x="200" y="200" font-family="'Liberation Serif', serif" font-size="40" font-weight="normal" font-style="normal" fill="#000">100</text>
<text transform="matrix(0.8824,0.0000,0.0000,0.8008,-133.9455,571.6451)" x="200" y="200" font-family="'Liberation Serif', serif" font-size="40" font-weight="normal" font-style="normal" fill="#000">150</text>
<text transform="matrix(0.8526,0.0000,0.0000,0.7774,-50.8865,862.7300)" x="200" y="200" font-family="'Liberation Serif', serif" font-size="40" font-weight="normal" font-style="normal" fill="#000">14.5</text>
<text transform="matrix(0.8702,0.0000,0.0000,0.7774,65.1055,862.7300)" x="200" y="200" font-family="'Liberation Serif', serif" font-size="40" font-weight="normal" font-style="normal" fill="#000">14.0</text>
<text transform="matrix(0.8523,0.0000,0.0000,0.7774,189.3366,862.7300)" x="200" y="200" font-family="'Liberation Serif', serif" font-size="40" font-weight="normal" font-style="normal" fill="#000">13.5</text>
<text transform="matrix(0.8550,0.0000,0.0000,0.7774,309.3671,862.7300)" x="200" y="200" font-family="'Liberation Serif', serif" font-size="40" font-weight="normal" font-style="normal" fill="#000">13.0</text>
<text transform="matrix(0.8678,0.0000,0.0000,0.7774,426.3383,862.7300)" x="200" y="200" font-family="'Liberation Serif', serif" font-size="40" font-weight="normal" font-style="normal" fill="#000">12.5</text>
<text transform="matrix(0.8547,0.0000,0.0000,0.7774,549.5879,862.7300)" x="200" y="200" font-family="'Liberation Serif', serif" font-size="40" font-weight="normal" font-style="normal" fill="#000">12.0</text>
<text transform="matrix(0.8817,0.0000,0.0000,0.7774,663.6813,862.7300)" x="200" y="200" font-family="'Liberation Serif', serif" font-size="40" font-weight="normal" font-style="normal" fill="#000">11.5</text>
<text transform="matrix(0.8814,0.0000,0.0000,0.7774,784.3319,862.7300)" x="200" y="200" font-family="'Liberation Serif', serif" font-size="40" font-weight="normal" font-style="normal" fill="#000">11.0</text>
<text transform="matrix(0.9501,0.0000,0.0000,0.7271,-70.4299,-98.2292)" x="200" y="200" font-family="'Liberation Serif', serif" font-size="40" font-weight="bold" font-style="normal" fill="#000">3</text>
<text transform="matrix(0.8680,0.0000,0.0000,0.7271,-13.8598,-98.2292)" x="200" y="200" font-family="'Liberation Serif', serif" font-size="40" font-weight="bold" font-style="normal" fill="#000">8</text>
<text transform="matrix(0.8059,0.0000,0.0000,0.7133,24.6022,-96.1548)" x="200" y="200" font-family="'Liberation Serif', serif" font-size="40" font-weight="bold" font-style="normal" fill="#000">keV</text>
<text transform="matrix(0.9376,0.0000,0.0000,0.7492,-65.5075,229.9834)" x="200" y="200" font-family="'Liberation Serif', serif" font-size="40" font-weight="bold" font-style="normal" fill="#000">8</text>
<text transform="matrix(0.8927,0.0000,0.0000,0.7492,-16.9353,229.9834)" x="200" y="200" font-family="'Liberation Serif', serif" font-size="40" font-weight="bold" font-style="normal" fill="#000">24</text>
<text transform="matrix(0.8059,0.0000,0.0000,0.7133,44.6022,236.8452)" x="200" y="200" font-family="'Liberation Serif', serif" font-size="40" font-weight="bold" font-style="normal" fill="#000">keV</text>
<text transform="matrix(0.8907,0.0000,0.0000,0.7492,-55.6720,563.3219)" x="200" y="200" font-family="'Liberation Serif', serif" font-size="40" font-weight="bold" font-style="normal" fill="#000">3</text>
<text transform="matrix(0.8927,0.0000,0.0000,0.7492,-16.9353,563.3219)" x="200" y="200" font-family="'Liberation Serif', serif" font-size="40" font-weight="bold" font-style="normal" fill="#000">24</text>
<text transform="matrix(0.8059,0.0000,0.0000,0.7133,44.6022,570.2531)" x="200" y="200" font-family="'Liberation Serif', serif" font-size="40" font-weight="bold" font-style="normal" fill="#000">keV</text>
<text transform="matrix(0.0000,-1.1291,0.9742,0.0000,-168.0664,893.1601)" x="200" y="200" font-family="'Liberation Serif', serif" font-size="40" font-weight="normal" font-style="normal" fill="#000" stroke="#000" stroke-width="0.286" stroke-linejoin="round">Number of sources</text>
<text transform="matrix(1.0740,0.0000,0.0000,0.9471,110.7103,874.4990)" x="200" y="200" font-family="'Liberation Serif', serif" font-size="40" font-weight="normal" font-style="normal" fill="#000">log</text>
<text transform="matrix(0.8071,0.0000,0.0000,0.6700,218.9213,935.7984)" x="200" y="200" font-family="'Liberation Serif', serif" font-size="40" font-weight="normal" font-style="normal" fill="#000">10</text>
<text transform="matrix(1.0502,0.0000,0.0000,0.8893,204.6612,884.0387)" x="200" y="200" font-family="'Liberation Serif', serif" font-size="40" font-weight="normal" font-style="normal" fill="#000">(Flux)</text>
<text transform="matrix(1.1735,0.0000,0.0000,0.9748,297.3731,869.6852)" x="200" y="200" font-family="'Liberation Serif', serif" font-size="40" font-weight="normal" font-style="normal" fill="#000">[erg</text>
<text transform="matrix(1.2356,0.0000,0.0000,0.9721,370.7966,869.7737)" x="200" y="200" font-family="'Liberation Serif', serif" font-size="40" font-weight="normal" font-style="normal" fill="#000">s</text>
<text transform="matrix(0.8460,0.0000,0.0000,0.7394,488.2323,902.9237)" x="200" y="200" font-family="'Liberation Serif', serif" font-size="40" font-weight="normal" font-style="normal" fill="#000">1</text>
<text transform="matrix(1.0900,0.0000,0.0000,1.0526,467.8846,854.2947)" x="200" y="200" font-family="'Liberation Serif', serif" font-size="40" font-weight="normal" font-style="normal" fill="#000">cm</text>
<text transform="matrix(0.7396,0.0000,0.0000,0.7308,614.1631,904.6462)" x="200" y="200" font-family="'Liberation Serif', serif" font-size="40" font-weight="normal" font-style="normal" fill="#000">2</text>
<text transform="matrix(0.9255,0.0000,0.0000,0.9426,594.3456,874.9534)" x="200" y="200" font-family="'Liberation Serif', serif" font-size="40" font-weight="normal" font-style="normal" fill="#000">]</text>
<text transform="matrix(0.6007,0.0000,0.0000,0.5930,707.4294,-77.5965)" x="200" y="200" font-family="'Liberation Sans', sans-serif" font-size="40" font-weight="normal" font-style="italic" fill="#000" stroke="#000" stroke-width="0.838" stroke-linejoin="round">N</text>
<text transform="matrix(0.4724,0.0000,0.0000,0.4694,751.5573,-49.1139)" x="200" y="200" font-family="'Liberation Sans', sans-serif" font-size="40" font-weight="normal" font-style="normal" fill="#000" stroke="#000" stroke-width="0.743" stroke-linejoin="round">det</text>
<text transform="matrix(0.7729,0.0000,0.0000,0.6125,727.7897,-80.4125)" x="200" y="200" font-family="'Liberation Serif', serif" font-size="40" font-weight="normal" font-style="normal" fill="#000" stroke="#000" stroke-width="0.799" stroke-linejoin="round">=</text>
<text transform="matrix(0.7429,0.0000,0.0000,0.6700,759.3611,-93.2305)" x="200" y="200" font-family="'Liberation Serif', serif" font-size="40" font-weight="normal" font-style="normal" fill="#000" stroke="#000" stroke-width="0.709" stroke-linejoin="round">713</text>
<text transform="matrix(0.6007,0.0000,0.0000,0.5930,707.4294,-41.3983)" x="200" y="200" font-family="'Liberation Sans', sans-serif" font-size="40" font-weight="normal" font-style="italic" fill="#000" stroke="#000" stroke-width="0.838" stroke-linejoin="round">N</text>
<text transform="matrix(0.4798,0.0000,0.0000,0.4412,749.8722,-7.4701)" x="200" y="200" font-family="'Liberation Sans', sans-serif" font-size="40" font-weight="normal" font-style="normal" fill="#000" stroke="#000" stroke-width="0.761" stroke-linejoin="round">undet</text>
<text transform="matrix(0.7838,0.0000,0.0000,0.5999,746.2327,-42.3056)" x="200" y="200" font-family="'Liberation Serif', serif" font-size="40" font-weight="normal" font-style="normal" fill="#000" stroke="#000" stroke-width="0.802" stroke-linejoin="round">=</text>
<text transform="matrix(0.7362,0.0000,0.0000,0.6549,782.4725,-54.1660)" x="200" y="200" font-family="'Liberation Serif', serif" font-size="40" font-weight="normal" font-style="normal" fill="#000" stroke="#000" stroke-width="0.720" stroke-linejoin="round">573</text>
<text transform="matrix(0.6007,0.0000,0.0000,0.5930,707.4294,-5.2001)" x="200" y="200" font-family="'Liberation Sans', sans-serif" font-size="40" font-weight="normal" font-style="italic" fill="#000" stroke="#000" stroke-width="0.838" stroke-linejoin="round">N</text>
<text transform="matrix(0.4399,0.0000,0.0000,0.4491,758.3299,25.7744)" x="200" y="200" font-family="'Liberation Sans', sans-serif" font-size="40" font-weight="normal" font-style="normal" fill="#000" stroke="#000" stroke-width="0.787" stroke-linejoin="round">det, L17</text>
<text transform="matrix(0.8117,0.0000,0.0000,0.6125,758.6069,-8.6375)" x="200" y="200" font-family="'Liberation Serif', serif" font-size="40" font-weight="normal" font-style="normal" fill="#000" stroke="#000" stroke-width="0.780" stroke-linejoin="round">=</text>
<text transform="matrix(0.7332,0.0000,0.0000,0.6401,800.8793,-15.0147)" x="200" y="200" font-family="'Liberation Serif', serif" font-size="40" font-weight="normal" font-style="normal" fill="#000" stroke="#000" stroke-width="0.730" stroke-linejoin="round">275</text>
<text transform="matrix(0.6007,0.0000,0.0000,0.5930,707.4294,255.2035)" x="200" y="200" font-family="'Liberation Sans', sans-serif" font-size="40" font-weight="normal" font-style="italic" fill="#000" stroke="#000" stroke-width="0.838" stroke-linejoin="round">N</text>
<text transform="matrix(0.4724,0.0000,0.0000,0.4694,751.5573,283.6861)" x="200" y="200" font-family="'Liberation Sans', sans-serif" font-size="40" font-weight="normal" font-style="normal" fill="#000" stroke="#000" stroke-width="0.743" stroke-linejoin="round">det</text>
<text transform="matrix(0.7729,0.0000,0.0000,0.6125,727.7897,252.3875)" x="200" y="200" font-family="'Liberation Serif', serif" font-size="40" font-weight="normal" font-style="normal" fill="#000" stroke="#000" stroke-width="0.799" stroke-linejoin="round">=</text>
<text transform="matrix(0.7429,0.0000,0.0000,0.6700,759.3611,239.5695)" x="200" y="200" font-family="'Liberation Serif', serif" font-size="40" font-weight="normal" font-style="normal" fill="#000" stroke="#000" stroke-width="0.709" stroke-linejoin="round">412</text>
<text transform="matrix(0.6007,0.0000,0.0000,0.5930,707.4294,291.4017)" x="200" y="200" font-family="'Liberation Sans', sans-serif" font-size="40" font-weight="normal" font-style="italic" fill="#000" stroke="#000" stroke-width="0.838" stroke-linejoin="round">N</text>
<text transform="matrix(0.4798,0.0000,0.0000,0.4412,749.8722,325.3299)" x="200" y="200" font-family="'Liberation Sans', sans-serif" font-size="40" font-weight="normal" font-style="normal" fill="#000" stroke="#000" stroke-width="0.761" stroke-linejoin="round">undet</text>
<text transform="matrix(0.7838,0.0000,0.0000,0.5999,746.2327,290.4944)" x="200" y="200" font-family="'Liberation Serif', serif" font-size="40" font-weight="normal" font-style="normal" fill="#000" stroke="#000" stroke-width="0.802" stroke-linejoin="round">=</text>
<text transform="matrix(0.7362,0.0000,0.0000,0.6549,782.4725,278.6340)" x="200" y="200" font-family="'Liberation Serif', serif" font-size="40" font-weight="normal" font-style="normal" fill="#000" stroke="#000" stroke-width="0.720" stroke-linejoin="round">874</text>
<text transform="matrix(0.6007,0.0000,0.0000,0.5930,707.4294,327.5999)" x="200" y="200" font-family="'Liberation Sans', sans-serif" font-size="40" font-weight="normal" font-style="italic" fill="#000" stroke="#000" stroke-width="0.838" stroke-linejoin="round">N</text>
<text transform="matrix(0.4399,0.0000,0.0000,0.4491,758.3299,358.5744)" x="200" y="200" font-family="'Liberation Sans', sans-serif" font-size="40" font-weight="normal" font-style="normal" fill="#000" stroke="#000" stroke-width="0.787" stroke-linejoin="round">det, L17</text>
<text transform="matrix(0.8117,0.0000,0.0000,0.6125,758.6069,324.1625)" x="200" y="200" font-family="'Liberation Serif', serif" font-size="40" font-weight="normal" font-style="normal" fill="#000" stroke="#000" stroke-width="0.780" stroke-linejoin="round">=</text>
<text transform="matrix(0.7332,0.0000,0.0000,0.6401,800.8793,317.7853)" x="200" y="200" font-family="'Liberation Serif', serif" font-size="40" font-weight="normal" font-style="normal" fill="#000" stroke="#000" stroke-width="0.730" stroke-linejoin="round">163</text>
<text transform="matrix(0.6007,0.0000,0.0000,0.5930,707.4294,588.2035)" x="200" y="200" font-family="'Liberation Sans', sans-serif" font-size="40" font-weight="normal" font-style="italic" fill="#000" stroke="#000" stroke-width="0.838" stroke-linejoin="round">N</text>
<text transform="matrix(0.4724,0.0000,0.0000,0.4694,751.5573,616.6861)" x="200" y="200" font-family="'Liberation Sans', sans-serif" font-size="40" font-weight="normal" font-style="normal" fill="#000" stroke="#000" stroke-width="0.743" stroke-linejoin="round">det</text>
<text transform="matrix(0.7729,0.0000,0.0000,0.6125,727.7897,585.3875)" x="200" y="200" font-family="'Liberation Serif', serif" font-size="40" font-weight="normal" font-style="normal" fill="#000" stroke="#000" stroke-width="0.799" stroke-linejoin="round">=</text>
<text transform="matrix(0.7429,0.0000,0.0000,0.6700,759.3611,572.5695)" x="200" y="200" font-family="'Liberation Serif', serif" font-size="40" font-weight="normal" font-style="normal" fill="#000" stroke="#000" stroke-width="0.709" stroke-linejoin="round">1089</text>
<text transform="matrix(0.6007,0.0000,0.0000,0.5930,707.4294,624.4017)" x="200" y="200" font-family="'Liberation Sans', sans-serif" font-size="40" font-weight="normal" font-style="italic" fill="#000" stroke="#000" stroke-width="0.838" stroke-linejoin="round">N</text>
<text transform="matrix(0.4798,0.0000,0.0000,0.4412,749.8722,658.3299)" x="200" y="200" font-family="'Liberation Sans', sans-serif" font-size="40" font-weight="normal" font-style="normal" fill="#000" stroke="#000" stroke-width="0.761" stroke-linejoin="round">undet</text>
<text transform="matrix(0.7838,0.0000,0.0000,0.5999,746.2327,623.4944)" x="200" y="200" font-family="'Liberation Serif', serif" font-size="40" font-weight="normal" font-style="normal" fill="#000" stroke="#000" stroke-width="0.802" stroke-linejoin="round">=</text>
<text transform="matrix(0.7362,0.0000,0.0000,0.6549,782.4725,611.6340)" x="200" y="200" font-family="'Liberation Serif', serif" font-size="40" font-weight="normal" font-style="normal" fill="#000" stroke="#000" stroke-width="0.720" stroke-linejoin="round">197</text>
<text transform="matrix(0.6007,0.0000,0.0000,0.5930,707.4294,660.5999)" x="200" y="200" font-family="'Liberation Sans', sans-serif" font-size="40" font-weight="normal" font-style="italic" fill="#000" stroke="#000" stroke-width="0.838" stroke-linejoin="round">N</text>
<text transform="matrix(0.4399,0.0000,0.0000,0.4491,758.3299,691.5744)" x="200" y="200" font-family="'Liberation Sans', sans-serif" font-size="40" font-weight="normal" font-style="normal" fill="#000" stroke="#000" stroke-width="0.787" stroke-linejoin="round">det, L17</text>
<text transform="matrix(0.8117,0.0000,0.0000,0.6125,758.6069,657.1625)" x="200" y="200" font-family="'Liberation Serif', serif" font-size="40" font-weight="normal" font-style="normal" fill="#000" stroke="#000" stroke-width="0.780" stroke-linejoin="round">=</text>
<text transform="matrix(0.7332,0.0000,0.0000,0.6401,800.8793,650.7853)" x="200" y="200" font-family="'Liberation Serif', serif" font-size="40" font-weight="normal" font-style="normal" fill="#000" stroke="#000" stroke-width="0.730" stroke-linejoin="round">421</text>
<rect x="98.75" y="1008.50" width="17.40" height="2.30" fill="#000"/>
<rect x="218.89" y="1008.50" width="17.40" height="2.30" fill="#000"/>
<rect x="339.04" y="1008.50" width="17.40" height="2.30" fill="#000"/>
<rect x="459.19" y="1008.50" width="17.40" height="2.30" fill="#000"/>
<rect x="579.33" y="1008.50" width="17.40" height="2.30" fill="#000"/>
<rect x="699.47" y="1008.50" width="17.40" height="2.30" fill="#000"/>
<rect x="819.62" y="1008.50" width="17.40" height="2.30" fill="#000"/>
<rect x="939.76" y="1008.50" width="17.40" height="2.30" fill="#000"/>
<rect x="140.30" y="37.40" width="16.80" height="2.80" fill="#000"/>
<rect x="142.90" y="370.00" width="16.10" height="2.80" fill="#000"/>
<rect x="142.90" y="703.10" width="16.10" height="2.80" fill="#000"/>
<rect x="639.70" y="1041.50" width="15.90" height="2.40" fill="#000"/>
<rect x="742.90" y="1041.40" width="15.90" height="2.40" fill="#000"/>

</svg>
</div></body></html>
